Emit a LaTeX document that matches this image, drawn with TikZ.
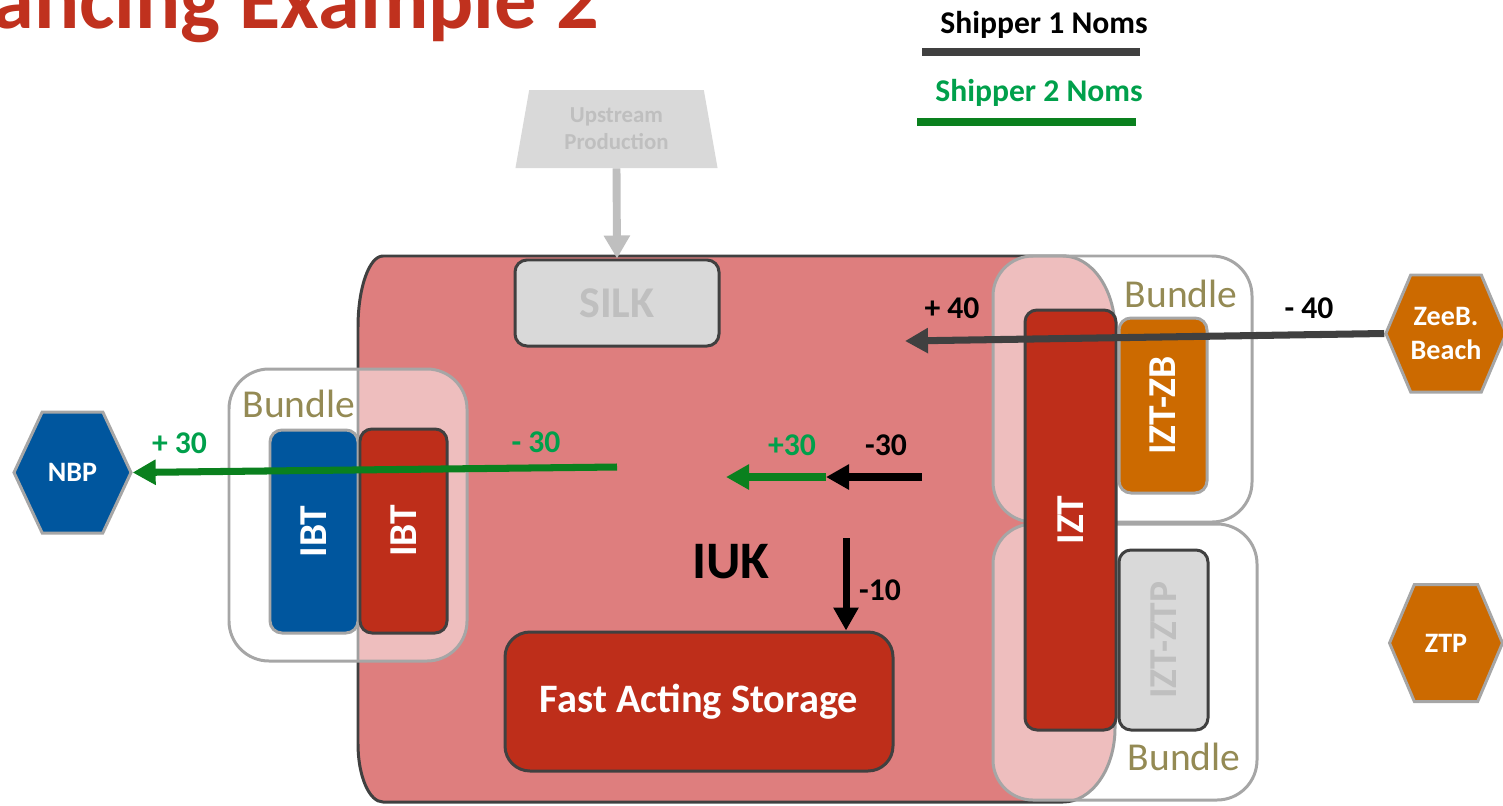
\documentclass[tikz,border=0pt]{standalone}
\usepackage{fontspec}
\setmainfont{Carlito}
\usepackage{tikz}
\usetikzlibrary{positioning,calc,arrows.meta,shapes.geometric,shapes.symbols}
\usepackage{xcolor}

\definecolor{iukpink}{RGB}{222,126,126}
\definecolor{boxred}{RGB}{190,46,26}
\definecolor{nbpblue}{RGB}{0,86,158}
\definecolor{zeeorange}{RGB}{204,106,0}
\definecolor{silkgray}{RGB}{217,217,217}
\definecolor{fadetext}{RGB}{191,191,191}
\definecolor{edgegray}{RGB}{64,64,64}
\definecolor{bundlegray}{RGB}{166,166,166}
\definecolor{bundletext}{RGB}{148,138,84}
\definecolor{titlered}{RGB}{192,49,30}
\definecolor{nomgreen}{RGB}{10,128,30}
\definecolor{labelgreen}{RGB}{0,160,75}

\begin{document}
\begin{tikzpicture}[x=0.02cm,y=0.02cm,
  box/.style={draw=edgegray,line width=1.7pt,rounded corners=0.24cm,
    inner sep=0pt,text=white,font=\fontsize{22.5}{24}\selectfont\bfseries},
  lightbox/.style={box,draw=bundlegray},
  bundle/.style={draw=bundlegray,line width=1.7pt,fill=white,
    fill opacity=0.5,rounded corners=0.8cm},
  bundlelabel/.style={anchor=base,text=bundletext,
    font=\fontsize{22.5}{24}\selectfont},
  hub/.style={signal,signal to=west and east,draw=bundlegray,
    line width=1.7pt,inner sep=0pt,text=white,align=center,
    font=\fontsize{16}{18}\selectfont\bfseries},
  nom/.style={line width=4pt,-{Triangle[length=0.46cm,width=0.48cm]}},
  numlabel/.style={anchor=base,font=\fontsize{18}{20}\selectfont\bfseries}]
\def\pxu{0.02cm}

\useasboundingbox (0,0) rectangle (1503,-805);
\clip (0,0) rectangle (1503,-805);

% Title, cut by the page edge.
\node[anchor=base east,text=titlered,
  font=\fontsize{48}{50}\selectfont\bfseries]
  (title) at (605,-28) {ancing Example 2};

% Legend.
\node[numlabel] (legone) at (1044,-33) {Shipper 1 Noms};
\draw[edgegray,line width=4pt] (922,-52) -- (1140,-52);
\node[numlabel,text=labelgreen] (legtwo) at (1039,-101) {Shipper 2 Noms};
\draw[nomgreen,line width=4pt] (917,-122) -- (1136,-122);

% IUK system.
\filldraw[fill=iukpink,draw=edgegray,line width=1.7pt]
  (383,-256) -- (1063,-256)
  arc[start angle=90,end angle=0,x radius=52,y radius=74]
  -- (1115,-728)
  arc[start angle=0,end angle=-90,x radius=52,y radius=74]
  -- (383,-802)
  arc[start angle=270,end angle=180,x radius=25,y radius=58]
  -- (358,-327)
  arc[start angle=180,end angle=90,x radius=25,y radius=71]
  -- cycle;
\node[font=\fontsize{30}{32}\selectfont\bfseries] (iuk) at (731,-562) {IUK};

% Bundles.
\draw[bundle] (229,-369) rectangle (467,-661);
\draw[bundle] (993,-256) rectangle (1252,-522);
\draw[bundle] (993,-524) rectangle (1257,-800);
\node[bundlelabel] (bunibt) at (299,-417) {Bundle};
\node[bundlelabel] (bunzb) at (1181,-307) {Bundle};
\node[bundlelabel] (bunztp) at (1184,-770) {Bundle};

% Upstream feed into SILK.
\node[trapezium,trapezium stretches=true,
  trapezium left angle=79,trapezium right angle=79,
  fill=silkgray,minimum width=203*\pxu,minimum height=78*\pxu,
  inner sep=0pt,text=fadetext,align=center,
  font=\fontsize{13}{15.5}\selectfont\bfseries]
  (ups) at (616.5,-129) {Upstream\\Production};
\node[box,fill=silkgray,text=fadetext,
  minimum width=204*\pxu,minimum height=86*\pxu,
  font=\fontsize{25}{27}\selectfont\bfseries] (silk) at (617,-303) {SILK};
\draw[fadetext,line width=4.5pt,-{Triangle[length=0.46cm,width=0.5cm]}]
  (ups.south) -- (silk.north);

% IBT pair.
\node[lightbox,fill=nbpblue,rotate=90,
  minimum width=203*\pxu,minimum height=88*\pxu] (ibtnbp) at (314,-531.5) {IBT};
\node[box,fill=boxred,rotate=90,
  minimum width=204*\pxu,minimum height=87*\pxu] (ibtiuk) at (403.5,-531) {IBT};

% IZT and its bundled sides.
\node[box,fill=boxred,rotate=90,
  minimum width=420*\pxu,minimum height=91*\pxu] (izt) at (1070.5,-520) {IZT};
\node[lightbox,fill=zeeorange,rotate=90,
  minimum width=175*\pxu,minimum height=88*\pxu] (iztzb) at (1163,-405.5) {IZT-ZB};
\node[box,fill=silkgray,text=fadetext,rotate=90,
  minimum width=180*\pxu,minimum height=89*\pxu] (iztztp) at (1163.5,-640) {IZT-ZTP};

% Storage.
\node[box,fill=boxred,rounded corners=0.5cm,
  minimum width=388*\pxu,minimum height=139*\pxu,
  font=\fontsize{23}{25}\selectfont\bfseries] (fas) at (699,-701.5) {Fast Acting Storage};

% Hubs.
\node[hub,fill=nbpblue,signal pointer angle=130,
  minimum width=117*\pxu,minimum height=121*\pxu] (nbp) at (72.5,-472.5) {NBP};
\node[hub,fill=zeeorange,signal pointer angle=134,
  minimum width=113*\pxu,minimum height=117*\pxu,
  font=\fontsize{16}{19}\selectfont\bfseries] (zee) at (1446,-333.5) {ZeeB.\\Beach};
\node[hub,fill=zeeorange,signal pointer angle=134,
  minimum width=113*\pxu,minimum height=117*\pxu] (ztp) at (1446,-643) {ZTP};

% Shipper 2 to NBP.
\coordinate (gtail) at (617,-467);
\draw[nom,nomgreen] (gtail) -- (nbp.east);
\node[numlabel,text=labelgreen] (pthirty) at (179.5,-453) {+ 30};
\node[numlabel,text=labelgreen] (mthirty) at (536,-452) {- 30};

% Shipper 1 from ZeeB.
\coordinate (zhead) at (905,-341);
\draw[nom,edgegray] (zee.west) -- (zhead);
\node[numlabel] (pforty) at (952,-318) {+ 40};
\node[numlabel] (mforty) at (1309,-318) {- 40};

% Trade inside IUK.
\coordinate (btail) at (922,-477);
\coordinate (bhead) at (826,-477);
\coordinate (ghead) at (726,-477);
\draw[nom,nomgreen] (bhead) -- (ghead);
\draw[nom,black] (btail) -- (bhead);
\node[numlabel,text=labelgreen] (ptrade) at (792,-455) {+30};
\node[numlabel] (mtrade) at (886,-455) {-30};

% Into storage.
\coordinate (dtail) at (846,-538);
\draw[nom,black] (dtail) -- (dtail |- fas.north);
\node[numlabel] (mten) at (880,-600) {-10};

\end{tikzpicture}
\end{document}
